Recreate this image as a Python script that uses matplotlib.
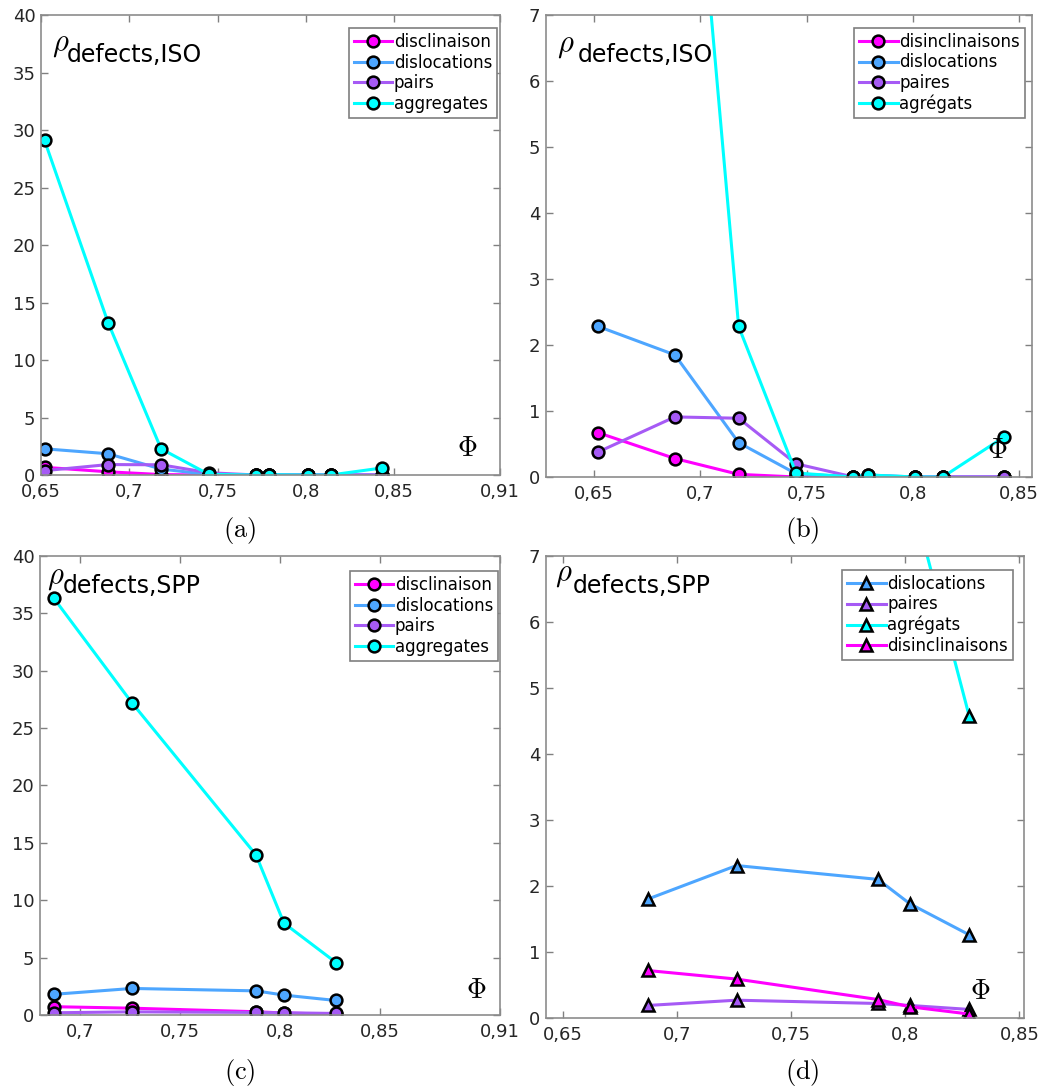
import matplotlib
matplotlib.use('Agg')
import matplotlib.pyplot as plt
from matplotlib.ticker import FuncFormatter

plt.rcParams['mathtext.fontset'] = 'cm'
plt.rcParams['font.family'] = 'DejaVu Sans'

# --- ISO data (panels a and b) ---
phi_iso = [0.652, 0.688, 0.718, 0.745, 0.772, 0.779, 0.801, 0.814, 0.843]
iso_discl = [0.67, 0.28, 0.04, 0.0, 0.0, 0.0, 0.0, 0.0, 0.0]
iso_dislo = [2.28, 1.85, 0.52, 0.05, 0.0, 0.03, 0.0, 0.0, 0.0]
iso_pairs = [0.38, 0.91, 0.89, 0.20, 0.0, 0.02, 0.0, 0.0, 0.0]
iso_aggr = [29.1, 13.25, 2.28, 0.06, 0.0, 0.03, 0.0, 0.0, 0.61]

# --- SPP data (panels c and d) ---
phi_spp = [0.687, 0.726, 0.788, 0.802, 0.828]
spp_discl = [0.72, 0.59, 0.28, 0.17, 0.06]
spp_dislo = [1.80, 2.31, 2.10, 1.73, 1.26]
spp_pairs = [0.19, 0.27, 0.22, 0.19, 0.13]
spp_aggr = [36.3, 27.2, 13.95, 8.0, 4.57]

labels_en = ['disclinaison', 'dislocations', 'pairs', 'aggregates']
labels_fr = ['disinclinaisons', 'dislocations', 'paires', 'agrégats']
labels_fr_d = ['dislocations', 'paires', 'agrégats', 'disinclinaisons']

c_discl = '#ff00ff'
c_dislo = '#4da6ff'
c_pairs = '#a65af5'
c_aggr = '#00ffff'

fig = plt.figure(figsize=(10.41, 10.91), dpi=100)

ax_a = fig.add_axes([0.0394, 0.5646, 0.4409, 0.4216])
ax_b = fig.add_axes([0.5245, 0.5628, 0.4669, 0.4235])
ax_c = fig.add_axes([0.0384, 0.0697, 0.4419, 0.4207])
ax_d = fig.add_axes([0.5245, 0.0669, 0.4592, 0.4235])

comma = FuncFormatter(lambda v, p: f'{v:g}'.replace('.', ','))


def draw(ax, x, series, colors, labels, marker):
    for y, c, lab in zip(series, colors, labels):
        ax.plot(x, y, color=c, lw=2.2, marker=marker, ms=8.5 if marker == 'o' else 9,
                mfc=c, mec='black', mew=1.8, label=lab)


def style(ax, xlim, xticks, ylim, yticks, name, rho_pos, txt_pos, phi_pos, leg_anchor):
    ax.set_xlim(*xlim)
    ax.set_ylim(*ylim)
    ax.set_xticks(xticks)
    ax.set_yticks(yticks)
    ax.xaxis.set_major_formatter(comma)
    ax.yaxis.set_major_formatter(comma)
    ax.tick_params(direction='in', top=True, right=True, length=5, width=1,
                   color='#808080', labelcolor='#262626', labelsize=13, pad=6)
    ax.tick_params(axis='y', pad=4)
    for s in ax.spines.values():
        s.set_color('#8c8c8c')
        s.set_linewidth(1.2)
    ax.text(rho_pos[0], rho_pos[1], r'$\rho$', transform=ax.transAxes,
            fontsize=22, ha='left', va='center')
    ax.text(txt_pos[0], txt_pos[1], name, transform=ax.transAxes,
            fontsize=17, ha='left', va='baseline')
    ax.text(phi_pos[0], phi_pos[1], r'$\Phi$', transform=ax.transAxes,
            fontsize=20, ha='center', va='center')
    leg = ax.legend(loc='upper right', bbox_to_anchor=leg_anchor, fontsize=12,
                    fancybox=False, framealpha=1, edgecolor='#7f7f7f',
                    handlelength=2.3, handletextpad=0.1, labelspacing=0.15,
                    borderpad=0.3, borderaxespad=0)
    leg.get_frame().set_linewidth(1.2)


draw(ax_a, phi_iso, [iso_discl, iso_dislo, iso_pairs, iso_aggr],
     [c_discl, c_dislo, c_pairs, c_aggr], labels_en, 'o')
style(ax_a, (0.65, 0.91), [0.65, 0.7, 0.75, 0.8, 0.85, 0.91], (0, 40), range(0, 41, 5),
      'defects,ISO', (0.024, 0.935), (0.057, 0.898), (0.928, 0.059), (0.9935, 0.9717))

draw(ax_b, phi_iso, [iso_discl, iso_dislo, iso_pairs, iso_aggr],
     [c_discl, c_dislo, c_pairs, c_aggr], labels_fr, 'o')
style(ax_b, (0.6274, 0.856), [0.65, 0.7, 0.75, 0.8, 0.85], (0, 7), range(0, 8),
      'defects,ISO', (0.023, 0.933), (0.066, 0.898), (0.928, 0.058), (0.9856, 0.9719))

draw(ax_c, phi_spp, [spp_discl, spp_dislo, spp_pairs, spp_aggr],
     [c_discl, c_dislo, c_pairs, c_aggr], labels_en, 'o')
style(ax_c, (0.68, 0.91), [0.7, 0.75, 0.8, 0.85, 0.91], (0, 40), range(0, 41, 5),
      'defects,SPP', (0.015, 0.954), (0.05, 0.919), (0.948, 0.054), (0.9957, 0.967))

draw(ax_d, phi_spp, [spp_dislo, spp_pairs, spp_aggr, spp_discl],
     [c_dislo, c_pairs, c_aggr, c_discl], labels_fr_d, '^')
style(ax_d, (0.6425, 0.852), [0.65, 0.7, 0.75, 0.8, 0.85], (0, 7), range(0, 8),
      'defects,SPP', (0.019, 0.959), (0.056, 0.92), (0.908, 0.058), (0.977, 0.970))

for lab, x, y in [('(a)', 0.2305, 0.5142), ('(b)', 0.7704, 0.5142),
                  ('(c)', 0.2305, 0.0174), ('(d)', 0.7704, 0.0174)]:
    fig.text(x, y, r'$\mathrm{' + lab + '}$', fontsize=19, ha='center', va='center')

fig.savefig('out.png', dpi=100)
